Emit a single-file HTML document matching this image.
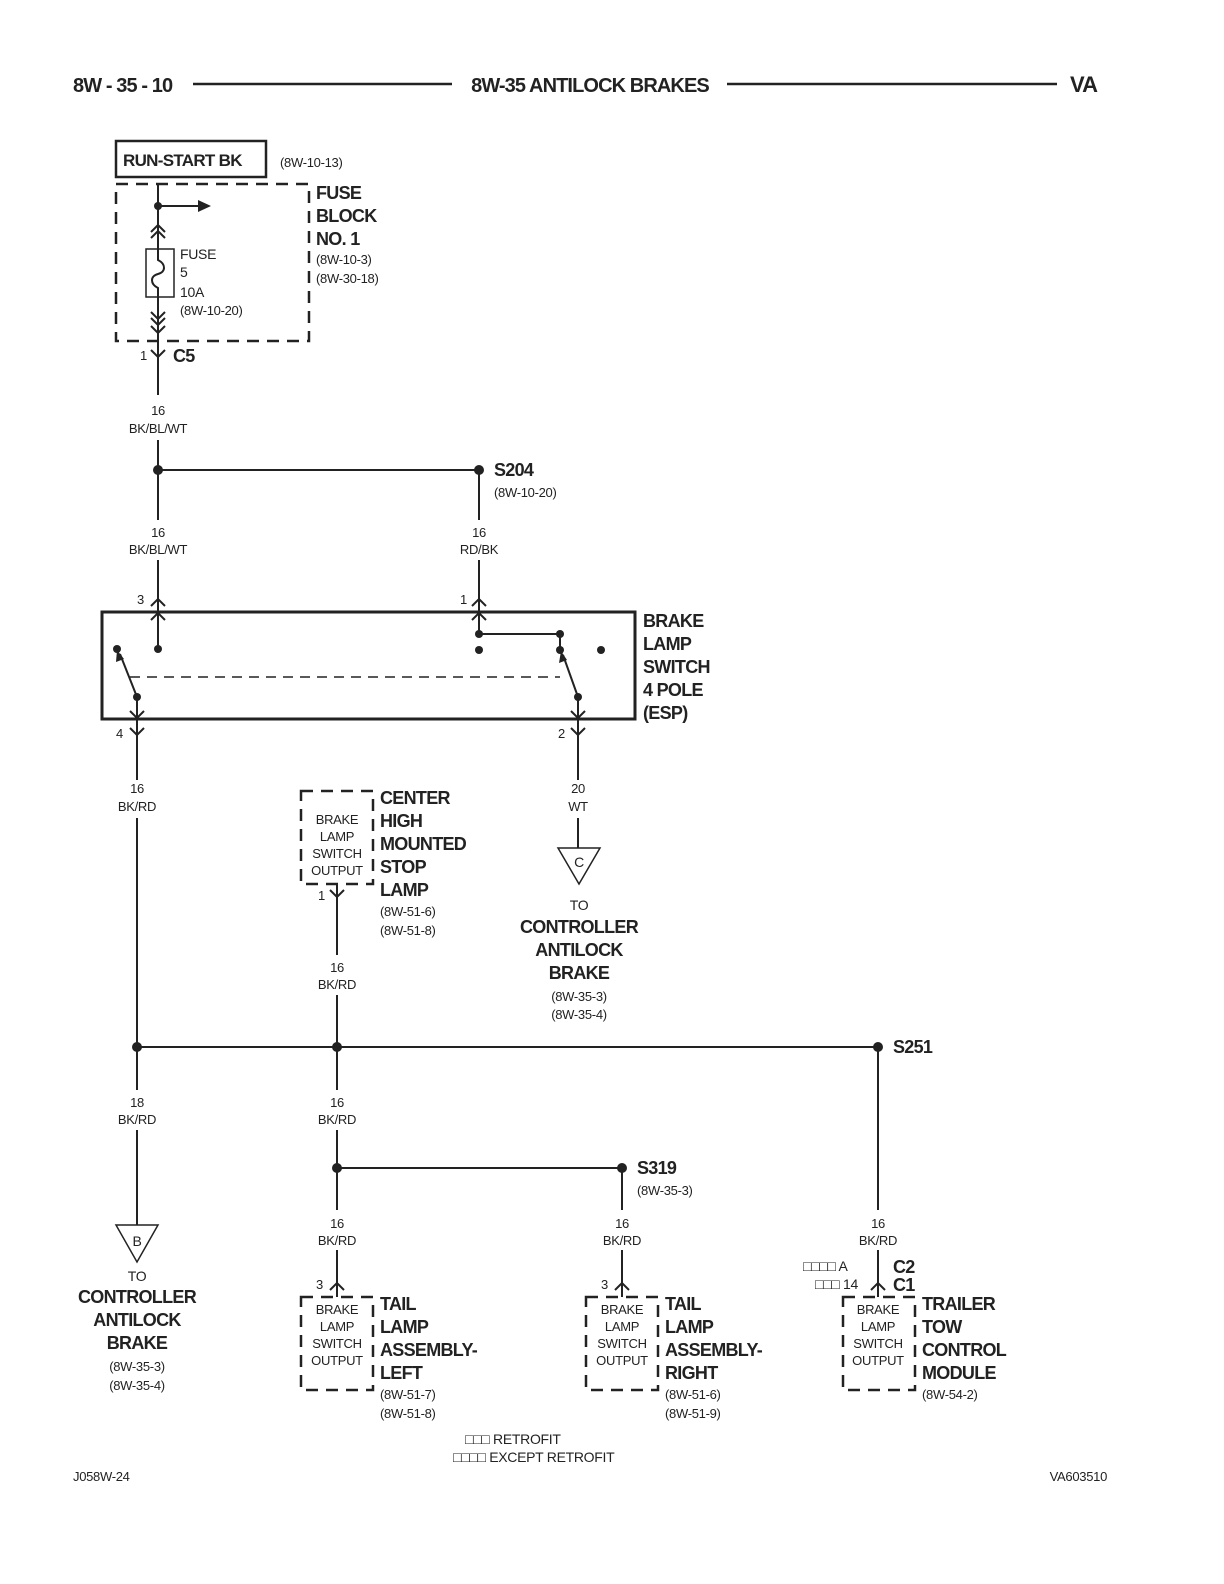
<!DOCTYPE html>
<html><head><meta charset="utf-8"><style>
html,body{margin:0;padding:0;background:#fff;}
svg{display:block;}
text{font-family:"Liberation Sans",sans-serif;fill:#222;}
.b{font-weight:bold;font-size:18px;letter-spacing:-0.7px;}
.s{font-size:13px;letter-spacing:-0.3px;}
.m{font-size:14px;letter-spacing:-0.3px;}
.h{font-weight:bold;font-size:20px;letter-spacing:-0.9px;}
</style></head><body>
<svg width="1224" height="1584" viewBox="0 0 1224 1584" xmlns="http://www.w3.org/2000/svg">
<g stroke="#222" fill="none" stroke-width="2">
<line x1="193" y1="84" x2="452" y2="84" stroke-width="2.5"/>
<line x1="727" y1="84" x2="1057" y2="84" stroke-width="2.5"/>
<rect x="116" y="141" width="150" height="36" stroke-width="2.5"/>
<rect x="116" y="184" width="193" height="157" stroke-dasharray="12,8" stroke-width="2.5"/>
<line x1="158" y1="184" x2="158" y2="249"/>
<line x1="158" y1="206" x2="198" y2="206"/>
<polyline points="151,232 158,225 165,232"/><polyline points="151,238 158,231 165,238"/>
<rect x="146" y="249" width="28" height="48" stroke-width="1.5"/>
<path d="M158,249 L158,260 C166,264 166,272 158,274 C150,276 150,284 158,288 L158,297"/>
<line x1="158" y1="297" x2="158" y2="395"/>
<polyline points="151,312 158,319 165,312"/><polyline points="151,318 158,325 165,318"/><polyline points="151,326 158,333 165,326"/>
<polyline points="151,350 158,357 165,350"/>
<line x1="158" y1="440" x2="158" y2="520"/>
<line x1="158" y1="470" x2="479" y2="470"/>
<line x1="479" y1="470" x2="479" y2="520"/>
<line x1="158" y1="560" x2="158" y2="649"/>
<line x1="479" y1="560" x2="479" y2="634"/>
<polyline points="151,606 158,599 165,606"/><polyline points="151,620 158,613 165,620"/>
<polyline points="472,606 479,599 486,606"/><polyline points="472,620 479,613 486,620"/>
<rect x="102" y="612" width="533" height="107" stroke-width="3"/>
<line x1="130" y1="677" x2="560" y2="677" stroke-dasharray="10,7" stroke-width="1.5"/>
<line x1="137" y1="697" x2="120" y2="654"/>
<line x1="137" y1="697" x2="137" y2="780"/>
<polyline points="130,711 137,718 144,711"/>
<polyline points="130,728 137,735 144,728"/>
<line x1="479" y1="634" x2="560" y2="634"/>
<line x1="560" y1="634" x2="560" y2="650"/>
<line x1="578" y1="697" x2="563" y2="655"/>
<line x1="578" y1="697" x2="578" y2="780"/>
<polyline points="571,711 578,718 585,711"/>
<polyline points="571,728 578,735 585,728"/>
<line x1="137" y1="818" x2="137" y2="1047"/>
<line x1="578" y1="818" x2="578" y2="848"/>
<polygon points="558,848 600,848 579,884" stroke-width="1.5"/>
<rect x="301" y="791" width="72" height="93" stroke-dasharray="12,8" stroke-width="2.5"/>
<line x1="337" y1="884" x2="337" y2="955"/>
<polyline points="330,890 337,897 344,890"/>
<line x1="337" y1="995" x2="337" y2="1090"/>
<line x1="137" y1="1047" x2="878" y2="1047"/>
<line x1="878" y1="1047" x2="878" y2="1210"/>
<line x1="137" y1="1047" x2="137" y2="1090"/>
<line x1="137" y1="1130" x2="137" y2="1225"/>
<polygon points="116,1225 158,1225 137,1262" stroke-width="1.5"/>
<line x1="337" y1="1130" x2="337" y2="1210"/>
<line x1="337" y1="1168" x2="622" y2="1168"/>
<line x1="622" y1="1168" x2="622" y2="1210"/>
<line x1="337" y1="1250" x2="337" y2="1297"/>
<line x1="622" y1="1250" x2="622" y2="1297"/>
<line x1="878" y1="1250" x2="878" y2="1297"/>
<polyline points="330,1290 337,1283 344,1290"/>
<polyline points="615,1290 622,1283 629,1290"/>
<polyline points="871,1290 878,1283 885,1290"/>
<rect x="301" y="1297" width="72" height="93" stroke-dasharray="12,8" stroke-width="2.5"/>
<rect x="586" y="1297" width="72" height="93" stroke-dasharray="12,8" stroke-width="2.5"/>
<rect x="843" y="1297" width="72" height="93" stroke-dasharray="12,8" stroke-width="2.5"/>
</g>
<g fill="#222">
<polygon points="198,200 211,206 198,212"/>
<circle cx="158" cy="206" r="4"/>
<circle cx="158" cy="470" r="5"/><circle cx="479" cy="470" r="5"/>
<circle cx="117" cy="649" r="4"/><circle cx="158" cy="649" r="4"/>
<circle cx="479" cy="634" r="4"/><circle cx="479" cy="650" r="4"/>
<circle cx="560" cy="634" r="4"/><circle cx="560" cy="650" r="4"/><circle cx="601" cy="650" r="4"/>
<circle cx="137" cy="697" r="4"/><circle cx="578" cy="697" r="4"/>
<polygon points="117,650 116,662 124,659"/>
<polygon points="561,651 559,663 567,660"/>
<circle cx="137" cy="1047" r="5"/><circle cx="337" cy="1047" r="5"/><circle cx="878" cy="1047" r="5"/>
<circle cx="337" cy="1168" r="5"/><circle cx="622" cy="1168" r="5"/>
</g>
<text x="73" y="92" class="h">8W - 35 - 10</text>
<text x="590" y="92" class="h" text-anchor="middle">8W-35 ANTILOCK BRAKES</text>
<text x="1070" y="92" class="h" style="font-size:22px">VA</text>
<text x="123" y="166" class="b" style="font-size:17px">RUN-START BK</text>
<text x="280" y="167" class="s">(8W-10-13)</text>
<text x="316" y="199" class="b">FUSE</text><text x="316" y="222" class="b">BLOCK</text><text x="316" y="245" class="b">NO. 1</text>
<text x="316" y="264" class="s">(8W-10-3)</text><text x="316" y="283" class="s">(8W-30-18)</text>
<text x="180" y="259" class="m">FUSE</text><text x="180" y="277" class="m">5</text><text x="180" y="297" class="m">10A</text><text x="180" y="315" class="s">(8W-10-20)</text>
<text x="140" y="360" class="s">1</text><text x="173" y="362" class="b">C5</text>
<g text-anchor="middle">
<text x="158" y="415" class="s">16</text><text x="158" y="433" class="s">BK/BL/WT</text>
<text x="158" y="537" class="s">16</text><text x="158" y="554" class="s">BK/BL/WT</text>
<text x="479" y="537" class="s">16</text><text x="479" y="554" class="s">RD/BK</text>
<text x="137" y="793" class="s">16</text><text x="137" y="811" class="s">BK/RD</text>
<text x="578" y="793" class="s">20</text><text x="578" y="811" class="s">WT</text>
<text x="337" y="972" class="s">16</text><text x="337" y="989" class="s">BK/RD</text>
<text x="137" y="1107" class="s">18</text><text x="137" y="1124" class="s">BK/RD</text>
<text x="337" y="1107" class="s">16</text><text x="337" y="1124" class="s">BK/RD</text>
<text x="337" y="1228" class="s">16</text><text x="337" y="1245" class="s">BK/RD</text>
<text x="622" y="1228" class="s">16</text><text x="622" y="1245" class="s">BK/RD</text>
<text x="878" y="1228" class="s">16</text><text x="878" y="1245" class="s">BK/RD</text>
</g>
<text x="494" y="476" class="b">S204</text>
<text x="494" y="497" class="s">(8W-10-20)</text>
<text x="137" y="604" class="s">3</text><text x="460" y="604" class="s">1</text>
<text x="116" y="738" class="s">4</text><text x="558" y="738" class="s">2</text>
<text x="643" y="627" class="b">BRAKE</text><text x="643" y="650" class="b">LAMP</text><text x="643" y="673" class="b">SWITCH</text><text x="643" y="696" class="b">4 POLE</text><text x="643" y="719" class="b">(ESP)</text>
<g text-anchor="middle">
<text x="337" y="824" class="s">BRAKE</text><text x="337" y="841" class="s">LAMP</text><text x="337" y="858" class="s">SWITCH</text><text x="337" y="875" class="s">OUTPUT</text>
<text x="337" y="1314" class="s">BRAKE</text><text x="337" y="1331" class="s">LAMP</text><text x="337" y="1348" class="s">SWITCH</text><text x="337" y="1365" class="s">OUTPUT</text>
<text x="622" y="1314" class="s">BRAKE</text><text x="622" y="1331" class="s">LAMP</text><text x="622" y="1348" class="s">SWITCH</text><text x="622" y="1365" class="s">OUTPUT</text>
<text x="878" y="1314" class="s">BRAKE</text><text x="878" y="1331" class="s">LAMP</text><text x="878" y="1348" class="s">SWITCH</text><text x="878" y="1365" class="s">OUTPUT</text>
<text x="579" y="867" class="m">C</text>
<text x="579" y="910" class="m">TO</text>
<text x="579" y="933" class="b">CONTROLLER</text><text x="579" y="956" class="b">ANTILOCK</text><text x="579" y="979" class="b">BRAKE</text>
<text x="579" y="1001" class="s">(8W-35-3)</text><text x="579" y="1019" class="s">(8W-35-4)</text>
<text x="137" y="1246" class="m">B</text>
<text x="137" y="1281" class="m">TO</text>
<text x="137" y="1303" class="b">CONTROLLER</text><text x="137" y="1326" class="b">ANTILOCK</text><text x="137" y="1349" class="b">BRAKE</text>
<text x="137" y="1371" class="s">(8W-35-3)</text><text x="137" y="1390" class="s">(8W-35-4)</text>
</g>
<text x="380" y="804" class="b">CENTER</text><text x="380" y="827" class="b">HIGH</text><text x="380" y="850" class="b">MOUNTED</text><text x="380" y="873" class="b">STOP</text><text x="380" y="896" class="b">LAMP</text>
<text x="380" y="916" class="s">(8W-51-6)</text><text x="380" y="935" class="s">(8W-51-8)</text>
<text x="318" y="900" class="s">1</text>
<text x="893" y="1053" class="b">S251</text>
<text x="637" y="1174" class="b">S319</text>
<text x="637" y="1195" class="s">(8W-35-3)</text>
<text x="316" y="1289" class="s">3</text><text x="601" y="1289" class="s">3</text>
<text x="380" y="1310" class="b">TAIL</text><text x="380" y="1333" class="b">LAMP</text><text x="380" y="1356" class="b">ASSEMBLY-</text><text x="380" y="1379" class="b">LEFT</text>
<text x="380" y="1399" class="s">(8W-51-7)</text><text x="380" y="1418" class="s">(8W-51-8)</text>
<text x="665" y="1310" class="b">TAIL</text><text x="665" y="1333" class="b">LAMP</text><text x="665" y="1356" class="b">ASSEMBLY-</text><text x="665" y="1379" class="b">RIGHT</text>
<text x="665" y="1399" class="s">(8W-51-6)</text><text x="665" y="1418" class="s">(8W-51-9)</text>
<text x="922" y="1310" class="b">TRAILER</text><text x="922" y="1333" class="b">TOW</text><text x="922" y="1356" class="b">CONTROL</text><text x="922" y="1379" class="b">MODULE</text>
<text x="922" y="1399" class="s">(8W-54-2)</text>
<text x="803" y="1271" class="m">□□□□ A</text>
<text x="815" y="1289" class="m">□□□ 14</text>
<text x="893" y="1273" class="b">C2</text>
<text x="893" y="1291" class="b">C1</text>
<text x="465" y="1444" class="m">□□□ RETROFIT</text>
<text x="453" y="1462" class="m">□□□□ EXCEPT RETROFIT</text>
<text x="73" y="1481" class="s">J058W-24</text>
<text x="1107" y="1481" class="s" text-anchor="end">VA603510</text>
</svg>
</body></html>
